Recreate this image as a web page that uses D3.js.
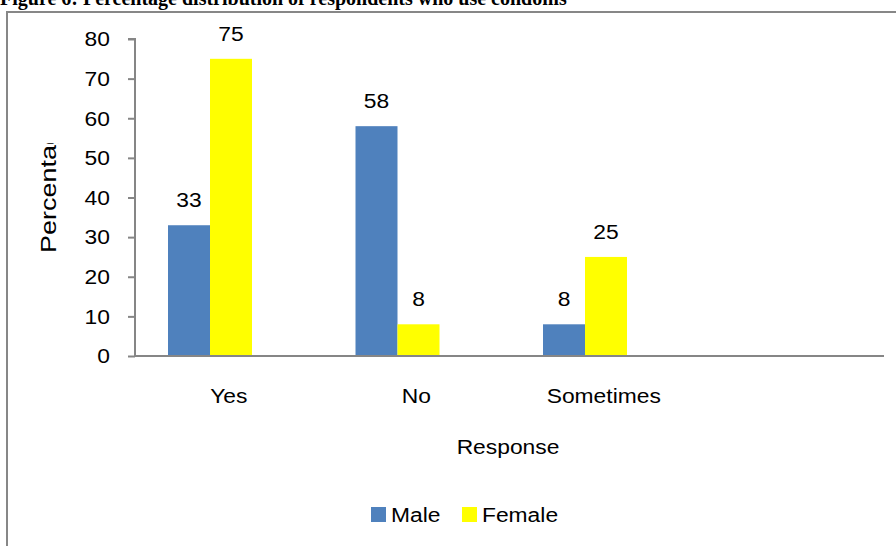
<!DOCTYPE html>
<html><head><meta charset="utf-8">
<script src="https://cdn.jsdelivr.net/npm/d3@7"></script>
<style>body{margin:0;background:#fff}svg{display:block}</style>
</head><body>
<script>
const categories = ["Yes", "No", "Sometimes", ""];
const seriesNames = ["Male", "Female"];
const maleValues = [33, 58, 8];
const femaleValues = [75, 8, 25];
const yTicks = [0, 10, 20, 30, 40, 50, 60, 70, 80];
const colors = ["#4F81BD", "#FFFF00"];
const titleText = "Figure 6: Percentage distribution of respondents who use condoms";

const W = 896, H = 546;
const svg = d3.select("body").append("svg").attr("width", W).attr("height", H);
const font = "'Liberation Sans', Arial, sans-serif";
const FS = 19.5, SX = 1.17;

// helper: horizontally stretched text anchored at (x,y)
function stext(parent, tx, ty, str, anchor, size) {
  return parent.append("text")
    .attr("transform", `translate(${tx},${ty}) scale(${SX},1)`)
    .attr("text-anchor", anchor || "start")
    .attr("font-family", font).attr("font-size", size || FS).attr("fill", "#000")
    .text(str);
}

// title (clipped at top like the reference)
svg.append("text").attr("x", 0).attr("y", 5)
  .attr("font-family", "'Liberation Serif','Times New Roman',serif")
  .attr("font-weight", "bold").attr("font-size", 20).attr("fill", "#000")
  .text(titleText);

// frame
svg.append("path").attr("d", "M7,546V12H896").attr("fill", "none")
  .attr("stroke", "#878787").attr("stroke-width", 2);

const y = d3.scaleLinear().domain([0, 80]).range([356, 39]);
const x = d3.scaleBand().domain(categories).range([135, 885]);
const xs = d3.scaleBand().domain(seriesNames).range([33, 117]);

const data = categories.slice(0, 3).map((c, i) => ({cat: c, vals: [maleValues[i], femaleValues[i]]}));

// bars
const g = svg.append("g");
data.forEach(d => {
  seriesNames.forEach((s, j) => {
    const v = d.vals[j];
    const bx = x(d.cat) + xs(s);
    g.append("rect").attr("x", bx).attr("y", y(v))
      .attr("width", xs.bandwidth()).attr("height", y(0) - y(v))
      .attr("fill", colors[j]);
    stext(g, bx + xs.bandwidth() / 2, y(v) - 18, v, "middle");
  });
});

// y axis
const yAxis = d3.axisLeft(y).tickValues(yTicks).tickSize(7).tickPadding(17);
const ya = svg.append("g").attr("transform", "translate(135,0)").call(yAxis);
ya.selectAll("path,line").attr("stroke", "#868686").attr("stroke-width", 2);
ya.select("path").attr("d", `M-7,${y(80)}H0V${y(0)}`);
ya.selectAll(".tick text")
  .attr("x", 0).attr("dy", "0.35em")
  .attr("transform", `translate(-25,0) scale(${SX},1)`)
  .attr("font-family", font).attr("font-size", FS).attr("fill", "#000");

// x axis line
svg.append("line").attr("x1", 134).attr("x2", 884).attr("y1", y(0)).attr("y2", y(0))
  .attr("stroke", "#868686").attr("stroke-width", 2);

// x labels
const xAxis = d3.axisBottom(x).tickSize(0).tickPadding(0);
const xa = svg.append("g").attr("transform", `translate(0,${y(0)})`).call(xAxis);
xa.select("path").remove();
xa.selectAll(".tick text")
  .attr("y", 0).attr("dy", null)
  .attr("transform", `translate(0,47) scale(${SX},1)`)
  .attr("font-family", font).attr("font-size", FS).attr("fill", "#000");

// axis titles
svg.append("defs").append("clipPath").attr("id", "yclip")
  .append("rect").attr("x", 0).attr("y", 143).attr("width", 120).attr("height", 200);
svg.append("g").attr("clip-path", "url(#yclip)")
  .append("text")
  .attr("transform", "translate(56,253) rotate(-90) scale(1,0.81)")
  .attr("font-family", font).attr("font-size", 27).attr("fill", "#000")
  .text("Percentage");

stext(svg, 508, 454, "Response", "middle");

// legend
const legX = [371, 462];
seriesNames.forEach((s, j) => {
  svg.append("rect").attr("x", legX[j]).attr("y", 507).attr("width", 15).attr("height", 15).attr("fill", colors[j]);
  stext(svg, legX[j] + 20, 522, s, "start");
});
</script>
</body></html>
